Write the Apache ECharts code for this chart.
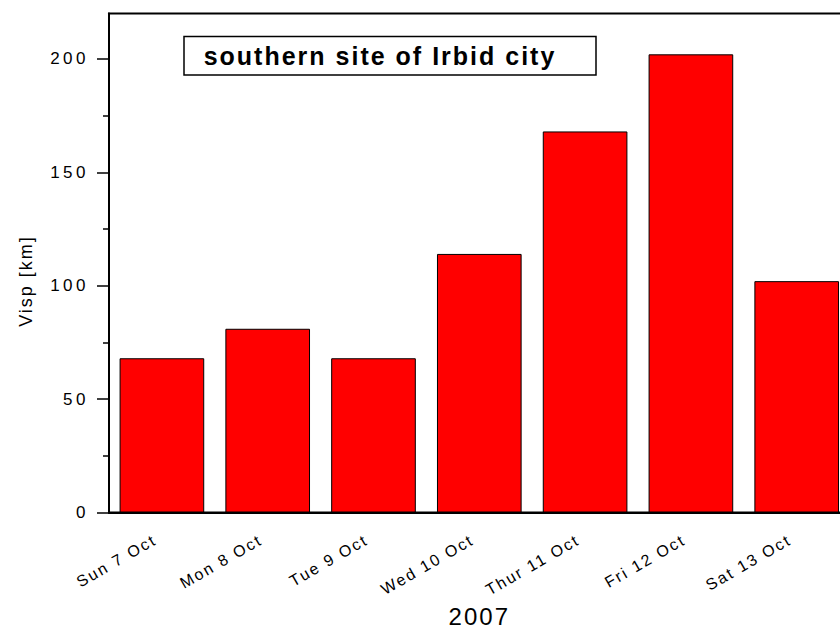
<!DOCTYPE html>
<html>
<head>
<meta charset="utf-8">
<script src="https://cdn.jsdelivr.net/npm/echarts@6/dist/echarts.min.js"></script>
<style>
  html, body { margin: 0; padding: 0; background: #fff; }
  #chart { width: 840px; height: 631px; letter-spacing: 2px; }
  /* value-axis tick labels are set a little wider */
  #chart text[style*="17px"] { letter-spacing: 3.5px; }
</style>
</head>
<body>
<div id="chart"></div>
<script>
// Daily visibility, southern site of Irbid city, October 2007
const days = ['Sun 7 Oct', 'Mon 8 Oct', 'Tue 9 Oct', 'Wed 10 Oct', 'Thur 11 Oct', 'Fri 12 Oct', 'Sat 13 Oct'];
const visp = [68, 81, 68, 114, 168, 202, 102];
const yMajorTicks = [0, 50, 100, 150, 200];
const yMinorTicks = [25, 75, 125, 175];
const yearLabel = '2007';
const yName = 'Visp [km]';
const titleText = 'southern site of Irbid city';

const FONT = 'Liberation Sans, Arial, sans-serif';
const chart = echarts.init(document.getElementById('chart'), null, { renderer: 'svg' });

chart.setOption({
  animation: false,
  backgroundColor: '#fff',
  textStyle: { fontFamily: FONT, color: '#000' },
  grid: {
    left: 109, top: 13.5, right: -9.6, bottom: 118.5,
    show: true, borderColor: '#000', borderWidth: 2,
    outerBoundsMode: 'none'
  },
  graphic: [{
    type: 'group',
    children: [
      { type: 'rect', shape: { x: 184, y: 36.5, width: 412, height: 38.5 },
        style: { fill: '#fff', stroke: '#000', lineWidth: 1.5 } },
      { type: 'text', x: 380, y: 56,
        style: { text: titleText, font: 'bold 25px ' + FONT, fill: '#000',
                 align: 'center', verticalAlign: 'middle' } }
    ]
  }],
  xAxis: [{
    type: 'category',
    data: days,
    position: 'bottom',
    axisLine: { lineStyle: { color: '#000', width: 2 } },
    axisTick: { alignWithLabel: true, length: 11, lineStyle: { color: '#000', width: 1.5 } },
    axisLabel: { rotate: 30, margin: 22, padding: [0, 8, 0, 0], fontSize: 16, color: '#000', fontFamily: FONT },
    name: yearLabel,
    nameLocation: 'middle',
    nameGap: 92,
    nameTextStyle: { fontSize: 24, color: '#000', fontFamily: FONT }
  }, {
    type: 'category',
    data: days,
    position: 'bottom',
    axisLine: { show: false },
    axisTick: { alignWithLabel: false, length: 5, lineStyle: { color: '#000', width: 1.5 } },
    axisLabel: { show: false }
  }],
  yAxis: [{
    type: 'value',
    min: 0, max: 220, interval: 50,
    axisLine: { show: true, lineStyle: { color: '#000', width: 2 } },
    axisTick: { show: true, length: 12, customValues: yMajorTicks, lineStyle: { color: '#000', width: 1.5 } },
    axisLabel: { customValues: yMajorTicks, fontSize: 17, margin: 20, color: '#000', fontFamily: FONT },
    splitLine: { show: false },
    name: yName,
    nameLocation: 'middle',
    nameGap: 74,
    nameTextStyle: { fontSize: 18, color: '#000', fontFamily: FONT, padding: [0, 36, 0, 0] }
  }, {
    type: 'value',
    min: 0, max: 220, interval: 50,
    position: 'left',
    axisLine: { show: false },
    axisTick: { show: true, length: 6, customValues: yMinorTicks, lineStyle: { color: '#000', width: 1.5 } },
    axisLabel: { show: false },
    splitLine: { show: false }
  }],
  series: [{
    type: 'bar',
    data: visp,
    xAxisIndex: 0,
    yAxisIndex: 0,
    barCategoryGap: '20%',
    itemStyle: { color: '#ff0000', borderColor: '#000', borderWidth: 1 }
  }]
});
</script>
</body>
</html>
